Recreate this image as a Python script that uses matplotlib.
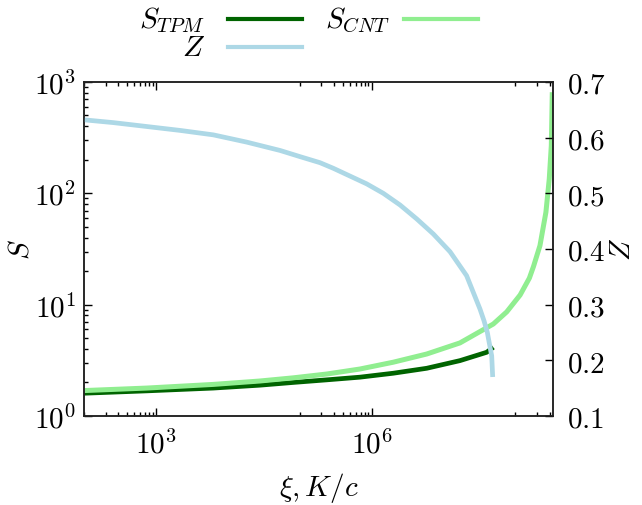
import matplotlib
matplotlib.use('Agg')
import matplotlib.pyplot as plt
from matplotlib.lines import Line2D
from matplotlib.ticker import NullFormatter

plt.rcParams['mathtext.fontset'] = 'cm'
plt.rcParams['font.family'] = 'serif'
plt.rcParams['font.size'] = 21

# S for the TPM model (left axis)
xi_tpm = [1.0e2, 7.43e2, 6.27e3, 2.79e4, 8.13e4, 2.37e5, 6.87e5, 2.0e6,
          5.82e6, 1.69e7, 3.97e7, 4.92e7]
s_tpm = [1.60, 1.68, 1.78, 1.89, 2.00, 2.11, 2.23, 2.42,
         2.68, 3.14, 3.73, 4.14]

# S for classical nucleation theory (left axis)
xi_cnt = [1.0e2, 7.43e2, 6.27e3, 2.79e4, 8.13e4, 2.37e5, 6.87e5, 2.0e6,
          5.82e6, 1.69e7, 4.92e7, 7.55e7, 1.16e8, 1.56e8, 1.78e8, 2.19e8,
          2.65e8, 2.95e8, 3.15e8, 3.25e8]
s_cnt = [1.69, 1.78, 1.92, 2.06, 2.20, 2.38, 2.64, 3.04,
         3.60, 4.53, 6.70, 8.6, 12.2, 17.3, 22.0, 33.9,
         67.6, 134.6, 268, 809]

# Z (right axis)
xi_z = [1.0e2, 2.55e2, 7.43e2, 2.16e3, 6.27e3, 1.82e4, 5.31e4, 1.0e5,
        1.91e5, 2.92e5, 8.51e5, 1.45e6, 2.48e6, 4.23e6, 7.19e6, 1.23e7,
        2.09e7, 3.21e7, 3.65e7, 4.06e7, 4.35e7, 4.67e7, 4.82e7]
z = [0.632, 0.627, 0.620, 0.613, 0.605, 0.592, 0.577, 0.566,
     0.555, 0.545, 0.517, 0.500, 0.479, 0.454, 0.427, 0.395,
     0.352, 0.292, 0.271, 0.250, 0.229, 0.208, 0.170]

x_major = [1e3, 1e6]
x_major_labels = [r'$10^{3}$', r'$10^{6}$']
x_minor = [k * 1e2 for k in range(1, 10)] + [k * 1e5 for k in range(1, 10)] \
    + [k * 1e8 for k in range(1, 4)]
s_major = [1, 10, 100, 1000]
s_major_labels = [r'$10^{0}$', r'$10^{1}$', r'$10^{2}$', r'$10^{3}$']
z_ticks = [0.1, 0.2, 0.3, 0.4, 0.5, 0.6, 0.7]

c_tpm = '#006400'
c_cnt = '#90ee90'
c_z = '#add8e6'

fig = plt.figure(figsize=(6.42, 5.06), dpi=100)
ax = fig.add_axes([0.131, 0.176, 0.730, 0.660])

ax.plot(xi_tpm, s_tpm, color=c_tpm, lw=3.4, solid_capstyle='butt')
ax.plot(xi_cnt, s_cnt, color=c_cnt, lw=3.6, solid_capstyle='butt')
ax.set_xscale('log')
ax.set_yscale('log')
ax.set_xlim(1.0e2, 3.3e8)
ax.set_ylim(1, 1000)

ax.set_xticks(x_major, labels=x_major_labels)
ax.set_xticks(x_minor, minor=True)
ax.xaxis.set_minor_formatter(NullFormatter())
ax.set_yticks(s_major, labels=s_major_labels)
ax.yaxis.set_minor_formatter(NullFormatter())

ax.tick_params(which='both', direction='in', top=True, right=False, width=1)
ax.tick_params(which='major', length=6)
ax.tick_params(which='minor', length=3)
ax.tick_params(axis='x', pad=10)
ax.tick_params(axis='y', pad=6)

ax.set_xlabel(r'$\xi, K/c$', labelpad=8)
ax.set_ylabel(r'$S$')
ax.yaxis.set_label_coords(-0.105, 0.5)

ax2 = ax.twinx()
ax2.plot(xi_z, z, color=c_z, lw=3.4, solid_capstyle='butt')
ax2.set_ylim(0.1, 0.7)
ax2.set_yticks(z_ticks, labels=[r'$%.1f$' % v for v in z_ticks])
ax2.tick_params(axis='y', direction='in', length=6, width=1, pad=10)
ax2.set_ylabel(r'$Z$')
ax2.yaxis.set_label_coords(1.118, 0.5)

for a in (ax, ax2):
    for sp in a.spines.values():
        sp.set_linewidth(1.1)
        sp.set_color('#222222')

# key above the plot, two columns
key = [(r'$S_{TPM}$', c_tpm, 205, 228, 20),
       (r'$S_{CNT}$', c_cnt, 390, 404, 20),
       (r'$Z$', c_z, 205, 228, 48)]
for label, color, tx, lx, y in key:
    fy = 1 - y / 506
    fig.text(tx / 642, fy, label, ha='right', va='center')
    fig.add_artist(Line2D([lx / 642, (lx + 74) / 642], [fy, fy],
                          transform=fig.transFigure, color=color, lw=3))

fig.savefig('out.png', dpi=100)
